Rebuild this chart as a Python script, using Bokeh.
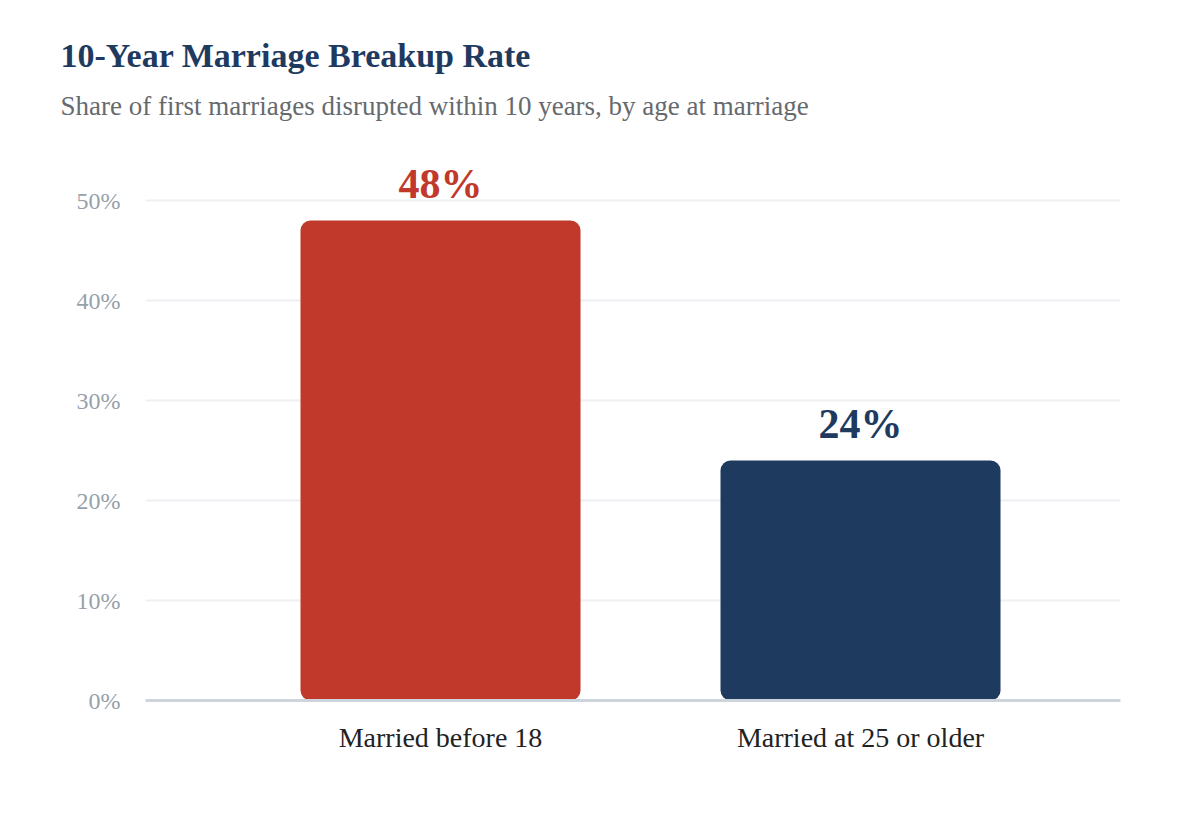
from bokeh.plotting import figure
from bokeh.models import Range1d, FixedTicker, Title, ColumnDataSource, NumeralTickFormatter
from bokeh.core.properties import value
from bokeh.embed import file_html
from bokeh.resources import INLINE

categories = ["Married before 18", "Married at 25 or older"]
rates = [48, 24]
bar_colors = ["#c0392b", "#1f3a5f"]
labels = ["48%", "24%"]
y_ticks = [0, 10, 20, 30, 40, 50]

FONT = "Liberation Serif"
idx = list(range(len(categories)))
src = ColumnDataSource(dict(x=idx, top=rates, color=bar_colors, label=labels))

p = figure(width=1184, height=804, output_backend="svg", toolbar_location=None,
           x_range=Range1d(-0.7024, 1.619), y_range=Range1d(0, 55),
           min_border_left=145, min_border_right=64, min_border_bottom=104, min_border_top=0)
p.outline_line_color = None
p.background_fill_color = "white"
p.border_fill_color = "white"

p.vbar(x="x", top="top", width=0.6667, bottom=0, source=src, fill_color="color",
       line_color=None, border_radius=10)
p.text(x="x", y="top", text="label", source=src, text_color="color", text_align="center",
       text_baseline="alphabetic", y_offset=-37, text_font=value(FONT),
       text_font_size="42px", text_font_style="bold")

# axes
p.yaxis.ticker = FixedTicker(ticks=y_ticks)
p.yaxis.formatter = NumeralTickFormatter(format="0")
p.yaxis.major_label_overrides = {t: f"{t}%" for t in y_ticks}
p.yaxis.axis_line_color = None
p.yaxis.major_tick_line_color = None
p.yaxis.minor_tick_line_color = None
p.yaxis.major_label_text_color = "#97a1ab"
p.yaxis.major_label_text_font = FONT
p.yaxis.major_label_text_font_size = "24px"
p.yaxis.major_label_standoff = 19

p.xaxis.ticker = FixedTicker(ticks=idx)
p.xaxis.major_label_overrides = {i: c for i, c in zip(idx, categories)}
p.xaxis.axis_line_color = "#cdd4db"
p.xaxis.axis_line_width = 3
p.xaxis.major_tick_line_color = None
p.xaxis.minor_tick_line_color = None
p.xaxis.major_label_text_color = "#222222"
p.xaxis.major_label_text_font = FONT
p.xaxis.major_label_text_font_size = "28px"
p.xaxis.major_label_standoff = 15

p.xgrid.grid_line_color = None
p.ygrid.grid_line_color = "#eef0f3"
p.ygrid.grid_line_width = 2

gap_below = Title(text=" ", text_font_size="1px", standoff=27)
sub = Title(text="Share of first marriages disrupted within 10 years, by age at marriage",
            text_font=FONT, text_font_size="27px", text_font_style="normal",
            text_color="#666a6e", align="left", offset=-85, standoff=0)
ttl = Title(text="10-Year Marriage Breakup Rate", text_font=FONT, text_font_size="34px",
            text_font_style="bold", text_color="#1f3a5f", align="left", offset=-85, standoff=30)
gap_top = Title(text=" ", text_font_size="1px", standoff=16)
p.add_layout(gap_below, "above")
p.add_layout(sub, "above")
p.add_layout(ttl, "above")
p.add_layout(gap_top, "above")

open("out.html", "w").write(file_html(p, INLINE))
